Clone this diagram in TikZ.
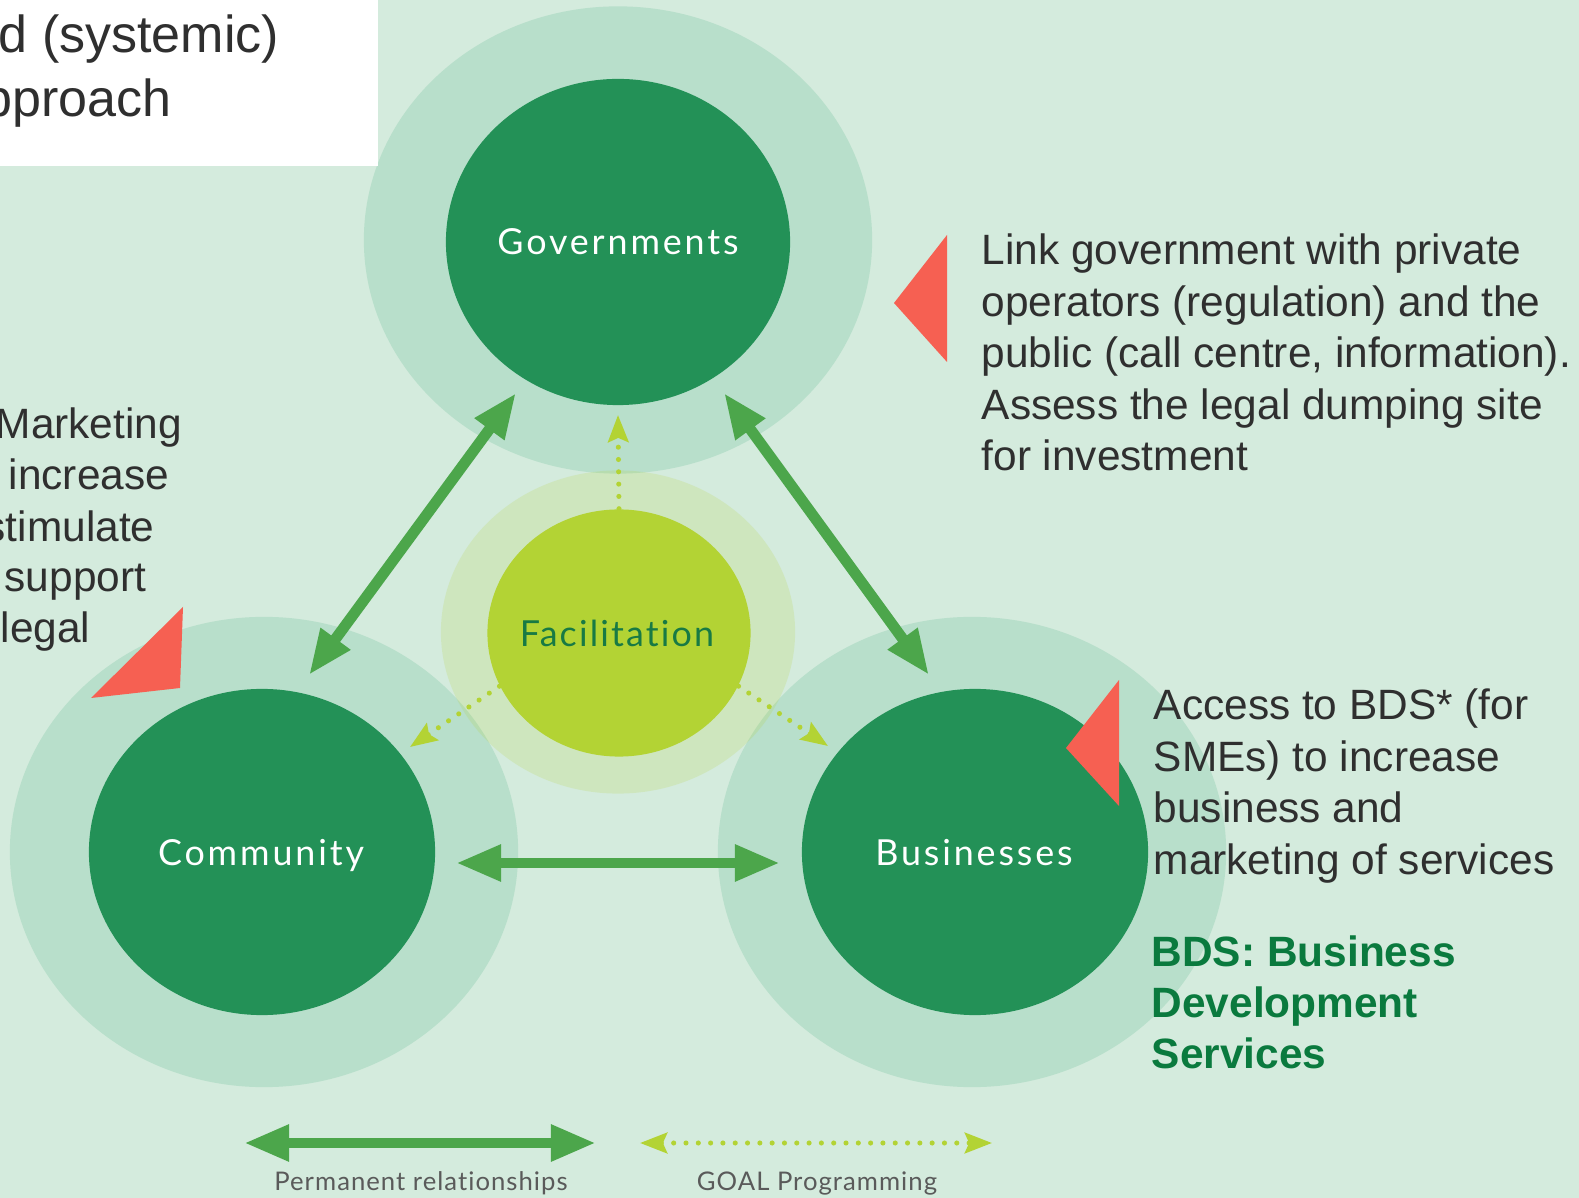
\documentclass[tikz,border=0pt]{standalone}
\usepackage{fontspec}
\setmainfont{Liberation Sans}
\newfontfamily\lblfont[LetterSpace=8,Ligatures={NoCommon,NoRare,NoDiscretionary}]{Lato}
\newfontfamily\facfont[LetterSpace=6,Ligatures={NoCommon,NoRare,NoDiscretionary}]{Lato}
\newfontfamily\keyfont[LetterSpace=4,Ligatures={NoCommon,NoRare,NoDiscretionary}]{Lato}
\usetikzlibrary{arrows.meta,shapes.geometric}

\definecolor{bgmint}{HTML}{D4EBDD}
\definecolor{halo}{HTML}{B8DFCB}
\definecolor{deepgreen}{HTML}{239157}
\definecolor{lime}{HTML}{B3D334}
\definecolor{arrowgreen}{HTML}{4CA64B}
\definecolor{coral}{HTML}{F66052}
\definecolor{textgray}{HTML}{2F2F2F}
\definecolor{bdsgreen}{HTML}{0A7A3E}
\definecolor{facgreen}{HTML}{187A44}
\definecolor{legendgray}{HTML}{5A5A5A}

\tikzset{
  ring/.style={ellipse, inner sep=0pt, fill=halo},
  core/.style={ellipse, inner sep=0pt, fill=deepgreen},
  corelabel/.style={inner sep=0pt, anchor=base, text=white,
    font=\lblfont\fontsize{10.2}{12}\selectfont},
  body/.style={inner sep=0pt, anchor=base west, text=textgray,
    font=\fontsize{12.06}{14.6}\selectfont},
  bdsline/.style={body, text=bdsgreen, font=\fontsize{12.06}{14.6}\selectfont\bfseries},
  titleline/.style={inner sep=0pt, anchor=base west, text=textgray,
    font=\fontsize{14.8}{18}\selectfont},
  legendlabel/.style={inner sep=0pt, anchor=base, text=legendgray,
    font=\keyfont\fontsize{7.3}{9}\selectfont},
  perm/.style={draw=arrowgreen, line width=3.1pt,
    {Triangle[length=12.8pt,width=9.7pt]}-{Triangle[length=12.8pt,width=9.7pt]}},
  goalline/.style={draw=lime, line width=1.45pt, line cap=round,
    dash pattern=on 0pt off 3.5pt},
  goaltip/.style={goalline, -{Stealth[length=7.7pt,width=5.8pt,inset=1.2pt]}},
  pointer/.style={fill=coral}
}

\begin{document}
\begin{tikzpicture}[x=0.01cm, y=-0.01cm]
\useasboundingbox (0,0) rectangle (1579,1198);
\clip (0,0) rectangle (1579,1198);
\fill[bgmint] (0,0) rectangle (1579,1198);

% outer rings of the three actors
\node[ring, minimum width=5.08cm, minimum height=4.67cm] (govring) at (618,240) {};
\node[ring, minimum width=5.08cm, minimum height=4.70cm] (comring) at (264,852) {};
\node[ring, minimum width=5.08cm, minimum height=4.70cm] (busring) at (972,852) {};

% translucent ring around the facilitation circle
\node[ellipse, inner sep=0pt, fill=lime, fill opacity=0.18,
      minimum width=3.54cm, minimum height=3.23cm] (facring) at (618,632) {};

% inner circles
\node[core, minimum width=3.44cm, minimum height=3.26cm] (gov) at (618,242) {};
\node[core, minimum width=3.46cm, minimum height=3.26cm] (com) at (262,852) {};
\node[core, minimum width=3.46cm, minimum height=3.26cm] (bus) at (975,852) {};
\node[ellipse, inner sep=0pt, fill=lime,
      minimum width=2.63cm, minimum height=2.47cm] (fac) at (619,633) {};

\node[corelabel] (govtext) at (618,255) {Governments};
\node[corelabel] (comtext) at (261,866) {Community};
\node[corelabel] (bustext) at (974,866) {Businesses};
\node[corelabel, text=facgreen, font=\facfont\fontsize{10.2}{12}\selectfont]
      (factext) at (617,647) {Facilitation};

% permanent relationships
\coordinate (gcA) at (516,393);
\coordinate (gcB) at (309,675);
\coordinate (gbA) at (724,393);
\coordinate (gbB) at (929,675);
\coordinate (cbA) at (456,863);
\coordinate (cbB) at (780,863);
\draw[perm] (gcA) -- (gcB);
\draw[perm] (gbA) -- (gbB);
\draw[perm] (cbA) -- (cbB);

% programme links from facilitation
\coordinate (ftop) at (618,415);
\coordinate (fleft) at (410,747);
\coordinate (fright) at (828,746);
\draw[goaltip] (fac.north) -- (ftop);
\draw[goaltip] (fac.204) -- (fleft);
\draw[goaltip] (fac.336) -- (fright);

% pointers
\fill[pointer] (947,235) -- (894,303) -- (947,362) -- cycle;
\fill[pointer] (1119,680) -- (1066,748) -- (1119,806) -- cycle;
\fill[pointer] (183,607) -- (91,698) -- (180,688) -- cycle;

% government text
\node[body] (g1) at (981,265.0) {Link government with private};
\node[body] (g2) at (981,316.4) {operators (regulation) and the};
\node[body] (g3) at (981,367.8) {public (call centre, information).};
\node[body] (g4) at (981,419.2) {Assess the legal dumping site};
\node[body] (g5) at (981,470.6) {for investment};

% business text
\node[body] (b1) at (1153,720.0) {Access to BDS* (for};
\node[body] (b2) at (1153,771.4) {SMEs) to increase};
\node[body] (b3) at (1153,822.8) {business and};
\node[body] (b4) at (1153,874.2) {marketing of services};

\node[bdsline] (d1) at (1151,966.0) {BDS: Business};
\node[bdsline] (d2) at (1151,1017.4) {Development};
\node[bdsline] (d3) at (1151,1068.8) {Services};

% community text
\node[body] (c1) at (-5,439) {Marketing};
\node[body] (c2) at (8,490) {increase};
\node[body] (c3) at (-16,542) {stimulate};
\node[body] (c4) at (4,592) {support};
\node[body] (c5) at (0,643) {legal};

% title panel
\fill[white] (0,0) rectangle (378,166);
\node[titleline] (t1) at (-2,53) {d (systemic)};
\node[titleline] (t2) at (-17,117) {pproach};

% legend
\coordinate (lpA) at (244,1143);
\coordinate (lpB) at (596,1143);
\draw[perm] (lpA) -- (lpB);
\coordinate (lgA) at (640,1143);
\coordinate (lgB) at (992,1143);
\draw[goalline, {Stealth[length=7.7pt,width=5.8pt,inset=1.2pt]}-{Stealth[length=7.7pt,width=5.8pt,inset=1.2pt]}] (lgA) -- (lgB);
\node[legendlabel] (lp) at (421,1190) {Permanent relationships};
\node[legendlabel] (lg) at (817,1190) {GOAL Programming};
\end{tikzpicture}
\end{document}
